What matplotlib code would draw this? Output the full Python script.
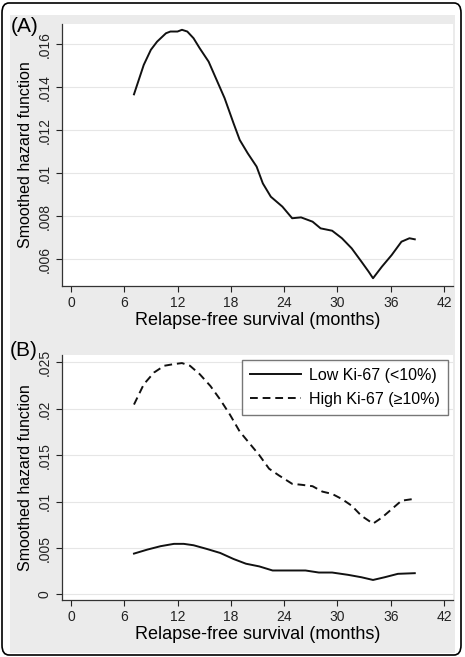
import matplotlib.pyplot as plt
from matplotlib.patches import FancyBboxPatch, Rectangle

plt.rcParams['font.family'] = ['Liberation Sans', 'DejaVu Sans']

# panel A: overall smoothed hazard
months_a = [7.1, 8.2, 9.0, 9.7, 10.7, 11.2, 12.0, 12.5, 13.1, 13.8, 14.5, 15.5, 16.4,
            17.3, 18.3, 19.0, 19.9, 20.9, 21.6, 22.5, 23.8, 24.9, 25.9, 27.2, 28.1,
            29.4, 30.5, 31.6, 32.7, 33.5, 34.0, 35.0, 36.1, 37.2, 38.1, 38.7]
hazard_a = [.01367, .01504, .01574, .01612, .01651, .01659, .01659, .01667, .01659,
            .01628, .01581, .01519, .01434, .01349, .01233, .01155, .01093, .01031,
            .00953, .00891, .00845, .00791, .00795, .00775, .00744, .00733, .00698,
            .00651, .00589, .00543, .00512, .00566, .00620, .00682, .00698, .00693]

# panel B: by Ki-67 group
months_high = [7.1, 8.2, 9.35, 10.5, 11.6, 12.5, 13.4, 14.5, 15.7, 16.8, 17.9, 19.0,
               20.1, 21.2, 22.3, 23.4, 24.9, 26.0, 27.2, 28.3, 29.4, 30.5, 31.6, 32.7,
               34.0, 35.0, 36.1, 37.2, 38.5]
hazard_high = [.02046, .02264, .02391, .02464, .02482, .02493, .02464, .02373, .02246,
               .02100, .01937, .01755, .01628, .01501, .01355, .01283, .01192, .01181,
               .01166, .01108, .01083, .01028, .00956, .00847, .00763, .00828, .00919,
               .01010, .01028]
months_low = [7.1, 8.6, 10.1, 11.6, 12.7, 13.8, 15.3, 16.8, 18.3, 19.7, 21.2, 22.7,
              24.6, 26.4, 27.9, 29.4, 31.2, 32.7, 34.0, 35.3, 36.8, 38.7]
hazard_low = [.0044, .00483, .0052, .00545, .00545, .0053, .0049, .00447, .00382,
              .00331, .00302, .00258, .00258, .00258, .00236, .00236, .00211, .00185,
              .00156, .00185, .00222, .00229]

xticks = [0, 6, 12, 18, 24, 30, 36, 42]
yticks_a = [.006, .008, .01, .012, .014, .016]
ylabels_a = ['.006', '.008', '.01', '.012', '.014', '.016']
yticks_b = [0, .005, .01, .015, .02, .025]
ylabels_b = ['0', '.005', '.01', '.015', '.02', '.025']

W, H = 465, 657
fig = plt.figure(figsize=(W / 100, H / 100), dpi=100)
fig.patch.set_facecolor('white')

# grey panel background and rounded outer frame
fig.patches.append(Rectangle((10 / W, 1 - 653 / H), 445 / W, 638 / H,
                             transform=fig.transFigure, facecolor='#ebebeb',
                             edgecolor='none', zorder=-1))
fig.patches.append(FancyBboxPatch((2 / W, 2 / H), 459 / W, 652 / H,
                                  boxstyle='round,pad=0,rounding_size=0.015',
                                  transform=fig.transFigure, facecolor='none',
                                  edgecolor='black', linewidth=1.2, zorder=1))


def style_axes(ax, yticks, ylabels):
    ax.set_facecolor('white')
    for s in ['top', 'right']:
        ax.spines[s].set_visible(False)
    for s in ['left', 'bottom']:
        ax.spines[s].set_color('#333333')
        ax.spines[s].set_linewidth(0.9)
    ax.set_xlim(-1, 43)
    ax.set_xticks(xticks)
    ax.set_xticklabels([str(t) for t in xticks], fontsize=10)
    ax.set_yticks(yticks)
    ax.set_yticklabels(ylabels, fontsize=10, rotation=90, va='center')
    ax.tick_params(colors='#222222', length=4, width=0.8)
    ax.grid(axis='y', color='#e6e6e6', linewidth=0.8)
    ax.set_axisbelow(True)
    ax.set_xlabel('Relapse-free survival (months)', fontsize=13, labelpad=1)
    ax.set_ylabel('Smoothed hazard function', fontsize=11.5, labelpad=3)


ax1 = fig.add_axes([62 / W, 1 - 286 / H, 391 / W, 262 / H])
ax1.plot(months_a, hazard_a, color='#111111', linewidth=1.4)
ax1.set_ylim(.00476, .01694)
style_axes(ax1, yticks_a, ylabels_a)
fig.text(11 / W, 1 - 26 / H, '(A)', fontsize=15, va='center', ha='left')

ax2 = fig.add_axes([62 / W, 1 - 600 / H, 391 / W, 245 / H])
ax2.plot(months_low, hazard_low, color='#111111', linewidth=1.4,
         label='Low Ki-67 (<10%)')
ax2.plot(months_high, hazard_high, color='#111111', linewidth=1.4,
         linestyle=(0, (4, 2.5)), label='High Ki-67 (≥10%)')
ax2.set_ylim(-.0006, .0258)
style_axes(ax2, yticks_b, ylabels_b)
leg = ax2.legend(loc='upper right', fontsize=11.5, frameon=True, fancybox=False,
                 handlelength=3.2, borderaxespad=0.3, labelspacing=0.55,
                 borderpad=0.5, handletextpad=0.5)
leg.get_frame().set_edgecolor('#555555')
leg.get_frame().set_linewidth(1.0)
fig.text(10 / W, 1 - 351 / H, '(B)', fontsize=15, va='center', ha='left')

fig.savefig('out.png', dpi=100)
